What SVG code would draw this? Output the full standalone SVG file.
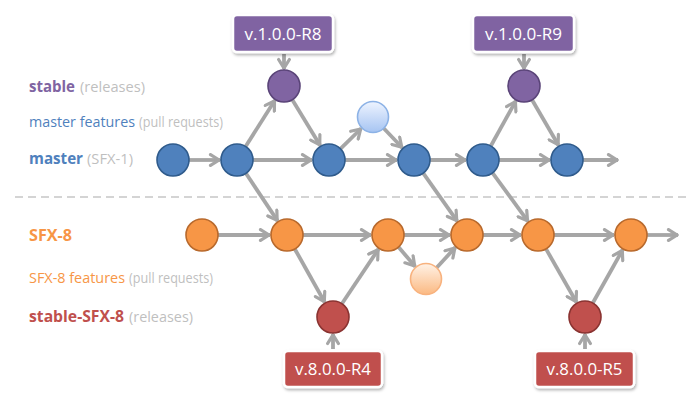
<svg xmlns="http://www.w3.org/2000/svg" width="699" height="409" viewBox="0 0 699 409">
<style>
.c{stroke-width:1.6}
.blue{fill:#4f81bd;stroke:#2f5b8c}
.purple{fill:#8064a2;stroke:#5a4478}
.orange{fill:#f79646;stroke:#b8692c}
.red{fill:#c0504d;stroke:#8a3331}
.lblue{fill:url(#gb);stroke:#8cb2e6}
.lorange{fill:url(#go);stroke:#f8b27e}
.e{fill:none;stroke:#a6a6a6;stroke-width:3.8;marker-end:url(#ah)}
.box{stroke:#ffffff;stroke-width:2.5;filter:url(#sh)}
.bt{font-family:"Open Sans","DejaVu Sans",sans-serif;font-size:17px;fill:#ffffff;text-anchor:middle}
.lb{font-family:"Open Sans","DejaVu Sans",sans-serif;font-weight:bold;font-size:16px}
.lr{font-family:"Open Sans","DejaVu Sans",sans-serif;font-size:14.5px}
.lp{font-family:"Open Sans","DejaVu Sans",sans-serif;font-size:14px;fill:#bfbfbf}
</style>
<defs>
<marker id="ah" viewBox="0 0 14 14" refX="12" refY="7" markerWidth="14" markerHeight="14" markerUnits="userSpaceOnUse" orient="auto">
<path d="M2.5,1.6 L11.2,7 L2.5,12.4" fill="none" stroke="#a6a6a6" stroke-width="3.2" stroke-linecap="round" stroke-linejoin="round"/>
</marker>
<linearGradient id="gb" x1="0" y1="0" x2="0" y2="1">
<stop offset="0" stop-color="#eef4ff"/>
<stop offset="1" stop-color="#a6c4f2"/>
</linearGradient>
<linearGradient id="go" x1="0" y1="0" x2="0" y2="1">
<stop offset="0" stop-color="#fff2e6"/>
<stop offset="1" stop-color="#fbb982"/>
</linearGradient>
<filter id="sh" x="-20%" y="-30%" width="140%" height="170%">
<feDropShadow dx="1" dy="2" stdDeviation="1.5" flood-color="#000000" flood-opacity="0.3"/>
</filter>
</defs>
<rect width="699" height="409" fill="#ffffff"/>

<g id="legend">
<text class="lb" x="29" y="92" fill="#8064a2" textLength="46" lengthAdjust="spacingAndGlyphs">stable</text>
<text class="lp" x="80" y="92" textLength="65" lengthAdjust="spacingAndGlyphs">(releases)</text>
<text class="lr" x="29" y="127" fill="#4f81bd" textLength="106" lengthAdjust="spacingAndGlyphs">master features</text>
<text class="lp" x="139" y="127" textLength="84" lengthAdjust="spacingAndGlyphs">(pull requests)</text>
<text class="lb" x="29" y="164" fill="#4f81bd" textLength="54" lengthAdjust="spacingAndGlyphs">master</text>
<text class="lp" x="87" y="164" textLength="46" lengthAdjust="spacingAndGlyphs">(SFX-1)</text>
<text class="lb" x="29" y="241" fill="#f79646" textLength="43" lengthAdjust="spacingAndGlyphs">SFX-8</text>
<text class="lr" x="29" y="283" fill="#f79646" textLength="96" lengthAdjust="spacingAndGlyphs">SFX-8 features</text>
<text class="lp" x="129" y="283" textLength="84" lengthAdjust="spacingAndGlyphs">(pull requests)</text>
<text class="lb" x="29" y="322" fill="#c0504d" textLength="95" lengthAdjust="spacingAndGlyphs">stable-SFX-8</text>
<text class="lp" x="129" y="322" textLength="64" lengthAdjust="spacingAndGlyphs">(releases)</text>
</g>

<line id="separator" x1="15" y1="197" x2="686" y2="197" stroke="#d4d4d4" stroke-width="2" stroke-dasharray="8 5"/>

<g id="connectors">
<line class="e" x1="189" y1="160" x2="220" y2="160"/>
<line class="e" x1="253" y1="160" x2="312" y2="160"/>
<line class="e" x1="345" y1="160" x2="397" y2="160"/>
<line class="e" x1="430" y1="160" x2="466" y2="160"/>
<line class="e" x1="499" y1="160" x2="550" y2="160"/>
<line class="e" x1="583" y1="160" x2="618" y2="160"/>
<line class="e" x1="245.6" y1="146.5" x2="274.9" y2="100.3"/>
<line class="e" x1="292.3" y1="99.7" x2="320.2" y2="145.5"/>
<line class="e" x1="340.4" y1="148.8" x2="361.2" y2="128.5"/>
<line class="e" x1="383.7" y1="128.2" x2="402.3" y2="147.7"/>
<line class="e" x1="490.8" y1="146" x2="515.8" y2="100.9"/>
<line class="e" x1="532" y1="99.8" x2="558.5" y2="145.3"/>
<line class="e" x1="245.9" y1="173.3" x2="277.6" y2="220.9"/>
<line class="e" x1="423.2" y1="173.1" x2="457.2" y2="221.1"/>
<line class="e" x1="492.5" y1="172.9" x2="528" y2="221.3"/>
<line class="e" x1="218" y1="235" x2="270" y2="235"/>
<line class="e" x1="303" y1="235" x2="371" y2="235"/>
<line class="e" x1="404" y1="235" x2="450" y2="235"/>
<line class="e" x1="483" y1="235" x2="521" y2="235"/>
<line class="e" x1="554" y1="235" x2="614" y2="235"/>
<line class="e" x1="647" y1="235" x2="678" y2="235"/>
<line class="e" x1="294.8" y1="249" x2="324.7" y2="302.2"/>
<line class="e" x1="341.9" y1="303.7" x2="378.5" y2="249.1"/>
<line class="e" x1="398.5" y1="247.1" x2="415.2" y2="266.5"/>
<line class="e" x1="436.6" y1="267.7" x2="455.4" y2="247.4"/>
<line class="e" x1="546" y1="248.9" x2="576.5" y2="302.2"/>
<line class="e" x1="592.8" y1="303" x2="622.7" y2="249.8"/>
<line class="e" x1="284" y1="54" x2="284" y2="69"/>
<line class="e" x1="524" y1="54" x2="524" y2="69"/>
<line class="e" x1="333" y1="349" x2="333" y2="334"/>
<line class="e" x1="585" y1="349" x2="585" y2="334"/>
</g>

<g id="tag-R8"><rect class="box" x="233" y="15" width="100" height="37" rx="4" fill="#8064a2"/><text class="bt" x="283" y="40" textLength="77" lengthAdjust="spacingAndGlyphs">v.1.0.0-R8</text></g>
<g id="tag-R9"><rect class="box" x="473" y="15" width="101" height="37" rx="4" fill="#8064a2"/><text class="bt" x="523.5" y="40" textLength="77" lengthAdjust="spacingAndGlyphs">v.1.0.0-R9</text></g>
<g id="tag-R4"><rect class="box" x="284" y="351" width="98" height="36" rx="4" fill="#c0504d"/><text class="bt" x="333" y="375" textLength="76" lengthAdjust="spacingAndGlyphs">v.8.0.0-R4</text></g>
<g id="tag-R5"><rect class="box" x="535" y="351" width="99" height="36" rx="4" fill="#c0504d"/><text class="bt" x="584.5" y="375" textLength="76" lengthAdjust="spacingAndGlyphs">v.8.0.0-R5</text></g>

<g id="m1"><circle class="c blue" cx="173" cy="160" r="16"/></g>
<g id="m2"><circle class="c blue" cx="237" cy="160" r="16"/></g>
<g id="m3"><circle class="c blue" cx="329" cy="160" r="16"/></g>
<g id="m4"><circle class="c blue" cx="414" cy="160" r="16"/></g>
<g id="m5"><circle class="c blue" cx="483" cy="160" r="16"/></g>
<g id="m6"><circle class="c blue" cx="567" cy="160" r="16"/></g>
<g id="s1"><circle class="c purple" cx="284" cy="86" r="16"/></g>
<g id="s2"><circle class="c purple" cx="524" cy="86" r="16"/></g>
<g id="mf1"><circle class="c lblue" cx="373" cy="117" r="15.5"/></g>
<g id="o1"><circle class="c orange" cx="202" cy="235" r="16"/></g>
<g id="o2"><circle class="c orange" cx="287" cy="235" r="16"/></g>
<g id="o3"><circle class="c orange" cx="388" cy="235" r="16"/></g>
<g id="o4"><circle class="c orange" cx="467" cy="235" r="16"/></g>
<g id="o5"><circle class="c orange" cx="538" cy="235" r="16"/></g>
<g id="o6"><circle class="c orange" cx="631" cy="235" r="16"/></g>
<g id="of1"><circle class="c lorange" cx="426" cy="279" r="15.5"/></g>
<g id="r1"><circle class="c red" cx="333" cy="317" r="16"/></g>
<g id="r2"><circle class="c red" cx="585" cy="317" r="16"/></g>
</svg>
